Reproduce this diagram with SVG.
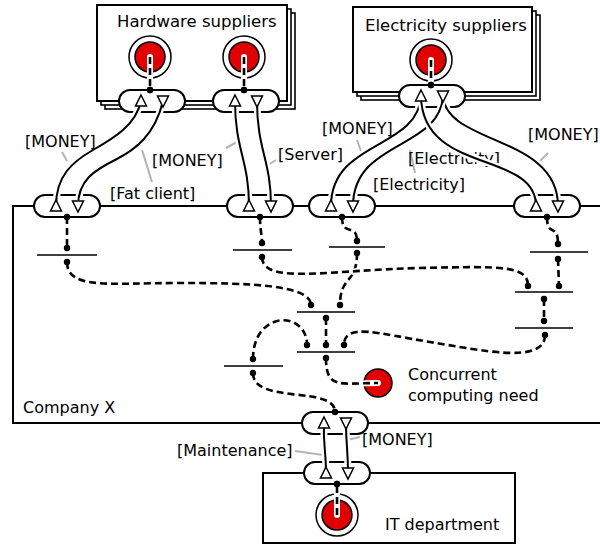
<svg xmlns="http://www.w3.org/2000/svg" width="600" height="546" viewBox="0 0 600 546">
<style>
text{font-family:"DejaVu Sans","Liberation Sans",sans-serif;font-size:16px;fill:#000}
.title{font-size:16.5px}
.box{fill:#fff;stroke:#000;stroke-width:2}
.shadow{fill:#fff;stroke:#000;stroke-width:1.6}
.pill{fill:#fff;stroke:#000;stroke-width:2}
.tri{fill:#fff;stroke:#000;stroke-width:1.5}
.bar{stroke:#000;stroke-width:1.6;fill:none}
.ring{fill:#fff;stroke:#000;stroke-width:1.5}
.res{fill:#e00000;stroke:#000;stroke-width:1.5}
.halo{fill:none;stroke:#fff;stroke-width:7;stroke-linecap:round}
.flow{fill:none;stroke:#000;stroke-width:2}
.dhalo{fill:none;stroke:#fff;stroke-width:6;stroke-linecap:round}
.dash{fill:none;stroke:#000;stroke-width:2.6;stroke-dasharray:7 4}
.lead{stroke:#b4b4b4;stroke-width:2;fill:none}
</style>
<defs>
<marker id="dot" viewBox="-4 -4 8 8" refX="0" refY="0" markerWidth="8" markerHeight="8" markerUnits="userSpaceOnUse"><circle r="3.2" fill="#000"/></marker>
<polygon id="up" points="0,-6 5.5,5 -5.5,5"/>
<polygon id="down" points="-5.5,-5 5.5,-5 0,6"/>
<path id="fA" d="M56,206 C56,176 72,162 93,150 S136,125 141,101"/>
<path id="fB" d="M78,206 C78,180 95,170 115,160 S155,135 163,101"/>
<path id="fC" d="M249,206 C249,160 235,150 235,101"/>
<path id="fD" d="M271,206 C271,160 257,150 257,101"/>
<path id="fE1" d="M421,96 C418,150 331,140 331,206"/>
<path id="fE2" d="M443,96 C440,150 353,140 353,206"/>
<path id="fE3" d="M421,96 C422,175 536,150 536,206"/>
<path id="fE4" d="M443,96 C446,145 558,135 558,206"/>
<path id="fF1" d="M324,423 C323,445 326,450 326,473"/>
<path id="fF2" d="M346,423 C346,445 348,450 348,473"/>
<path id="r1" d="M150,57 V90"/>
<path id="r2" d="M244,57 V90"/>
<path id="r3" d="M431,60 V85"/>
<path id="r4" d="M337,515 V484"/>
<path id="d1" d="M67,217 L67,248"/>
<path id="d2" d="M260,217 C260,230 262,235 262,243"/>
<path id="d3" d="M342,217 C342,238 357,222 357,241"/>
<path id="d4" d="M547,217 C547,238 558,222 558,244"/>
<path id="d5" d="M558,259 L559,286"/>
<path id="d6" d="M544,299 L544,321"/>
<path id="d7" d="M67,262 C67,290 110,283 180,283 C250,283 311,285 311,305"/>
<path id="d8" d="M262,257 C262,285 330,270 420,268 C505,266 528,266 528,286"/>
<path id="d9" d="M357,253 C357,285 340,275 340,305"/>
<path id="d10" d="M326,318 L326,345"/>
<path id="d11" d="M253,359 C253,310 307,310 307,345"/>
<path id="d12" d="M545,335 C545,365 480,350 430,342 C380,334 344,322 344,345"/>
<path id="d13" d="M326,358 C326,390 340,383 378,383"/>
<path id="d14" d="M253,373 C253,405 335,385 335,412"/>
</defs>

<g id="hardware-suppliers">
<rect class="shadow" x="105" y="13" width="190" height="96"/>
<rect class="shadow" x="101" y="9" width="190" height="96"/>
<rect class="box" x="97" y="5" width="190" height="96"/>
<text class="title" x="117" y="27">Hardware suppliers</text>
<circle class="ring" cx="150" cy="57" r="21"/><circle class="res" cx="150" cy="57" r="15"/>
<circle class="ring" cx="244" cy="57" r="21"/><circle class="res" cx="244" cy="57" r="15"/>
</g>

<g id="electricity-suppliers">
<rect class="shadow" x="361" y="15" width="179" height="85"/>
<rect class="shadow" x="357" y="11" width="179" height="85"/>
<rect class="box" x="353" y="7" width="179" height="85"/>
<text class="title" x="365" y="31">Electricity suppliers</text>
<circle class="ring" cx="431" cy="60" r="21"/><circle class="res" cx="431" cy="60" r="15"/>
</g>

<g id="company-x">
<rect class="box" x="13" y="206" width="610" height="217"/>
<text x="23" y="413">Company X</text>
</g>

<g id="it-department">
<rect class="box" x="263" y="473" width="252" height="70"/>
<circle class="ring" cx="337" cy="515" r="21"/><circle class="res" cx="337" cy="515" r="15"/>
<text x="385" y="530">IT department</text>
</g>

<g id="concurrent-need">
<circle class="res" cx="378" cy="383" r="14"/>
<text x="408" y="380">Concurrent</text>
<text x="408" y="401">computing need</text>
</g>

<g id="steps">
<path id="b1" class="bar" d="M37,255 H97"/>
<path id="b2" class="bar" d="M233,250 H292"/>
<path id="b3" class="bar" d="M329,247 H385"/>
<path id="b4" class="bar" d="M530,252 H588"/>
<path id="b5" class="bar" d="M515,292 H573"/>
<path id="b6" class="bar" d="M515,328 H573"/>
<path id="b7" class="bar" d="M297,312 H355"/>
<path id="b8" class="bar" d="M297,352 H355"/>
<path id="b9" class="bar" d="M224,366 H283"/>
</g>

<g id="ports">
<rect id="p-hw1" class="pill" x="119" y="90" width="66" height="22" rx="11"/>
<rect id="p-hw2" class="pill" x="213" y="90" width="66" height="22" rx="11"/>
<rect id="p-el" class="pill" x="399" y="85" width="66" height="22" rx="11"/>
<rect id="p-c1" class="pill" x="34" y="195" width="66" height="22" rx="11"/>
<rect id="p-c2" class="pill" x="227" y="195" width="66" height="22" rx="11"/>
<rect id="p-c3" class="pill" x="309" y="195" width="66" height="22" rx="11"/>
<rect id="p-c4" class="pill" x="514" y="195" width="66" height="22" rx="11"/>
<rect id="p-cb" class="pill" x="302" y="412" width="66" height="22" rx="11"/>
<rect id="p-it" class="pill" x="304" y="462" width="66" height="22" rx="11"/>
</g>

<g id="leaders">
<path class="lead" d="M62,152 L67,161"/>
<path class="lead" d="M142,150 L152,182"/>
<path class="lead" d="M226,148 L237,142"/>
<path class="lead" d="M268,165 L276,160"/>
<path class="lead" d="M357,140 L362,154"/>
<path class="lead" d="M448,150 L450,144"/>
<path class="lead" d="M410,150 L415,173"/>
<path class="lead" d="M548,153 L538,163"/>
<path class="lead" d="M295,451 L323,455"/>
<path class="lead" d="M360,437 L347,440"/>
</g>

<text x="408" y="164">[Electricity]</text>

<g id="connectors">
<use href="#fA" class="halo"/><use href="#fA" class="flow"/>
<use href="#fB" class="halo"/><use href="#fB" class="flow"/>
<use href="#fC" class="halo"/><use href="#fC" class="flow"/>
<use href="#fD" class="halo"/><use href="#fD" class="flow"/>
<use href="#fE1" class="halo"/><use href="#fE1" class="flow"/>
<use href="#fE4" class="halo"/><use href="#fE4" class="flow"/>
<use href="#fE2" class="halo"/><use href="#fE2" class="flow"/>
<use href="#fE3" class="halo"/><use href="#fE3" class="flow"/>
<use href="#fF1" class="halo"/><use href="#fF1" class="flow"/>
<use href="#fF2" class="halo"/><use href="#fF2" class="flow"/>
<g marker-end="url(#dot)">
<use href="#r1" class="dhalo"/><use href="#r1" class="dash"/>
<use href="#r2" class="dhalo"/><use href="#r2" class="dash"/>
<use href="#r3" class="dhalo"/><use href="#r3" class="dash"/>
<use href="#r4" class="dhalo"/><use href="#r4" class="dash"/>
</g>
<use href="#d1" class="dhalo"/><use href="#d2" class="dhalo"/><use href="#d3" class="dhalo"/>
<use href="#d4" class="dhalo"/><use href="#d5" class="dhalo"/><use href="#d6" class="dhalo"/>
<use href="#d7" class="dhalo"/><use href="#d9" class="dhalo"/><use href="#d10" class="dhalo"/>
<use href="#d11" class="dhalo"/><use href="#d12" class="dhalo"/><use href="#d13" class="dhalo"/>
<use href="#d14" class="dhalo"/>
<g marker-start="url(#dot)" marker-end="url(#dot)">
<use href="#d1" class="dash"/><use href="#d2" class="dash"/><use href="#d3" class="dash"/>
<use href="#d4" class="dash"/><use href="#d5" class="dash"/><use href="#d6" class="dash"/>
<use href="#d7" class="dash"/><use href="#d9" class="dash"/><use href="#d10" class="dash"/>
<use href="#d11" class="dash"/><use href="#d12" class="dash"/><use href="#d14" class="dash"/>
</g>
<use href="#d8" class="dhalo"/>
<use href="#d8" class="dash" marker-start="url(#dot)" marker-end="url(#dot)"/>
<use href="#d13" class="dash" marker-start="url(#dot)"/>
</g>

<g id="port-marks">
<use href="#up" class="tri" x="141" y="101"/><use href="#down" class="tri" x="163" y="101"/>
<use href="#up" class="tri" x="235" y="101"/><use href="#down" class="tri" x="257" y="101"/>
<use href="#up" class="tri" x="421" y="96"/><use href="#down" class="tri" x="443" y="96"/>
<use href="#up" class="tri" x="56" y="206"/><use href="#down" class="tri" x="78" y="206"/>
<use href="#up" class="tri" x="249" y="206"/><use href="#down" class="tri" x="271" y="206"/>
<use href="#up" class="tri" x="331" y="206"/><use href="#down" class="tri" x="353" y="206"/>
<use href="#up" class="tri" x="536" y="206"/><use href="#down" class="tri" x="558" y="206"/>
<use href="#up" class="tri" x="324" y="423"/><use href="#down" class="tri" x="346" y="423"/>
<use href="#up" class="tri" x="326" y="473"/><use href="#down" class="tri" x="348" y="473"/>
</g>

<g id="labels">
<text x="25" y="147">[MONEY]</text>
<text x="152" y="166">[MONEY]</text>
<text x="110" y="199">[Fat client]</text>
<text x="278" y="160">[Server]</text>
<text x="322" y="134">[MONEY]</text>
<text x="373" y="190">[Electricity]</text>
<text x="528" y="140">[MONEY]</text>
<text x="177" y="456">[Maintenance]</text>
<text x="362" y="445">[MONEY]</text>
</g>
</svg>
